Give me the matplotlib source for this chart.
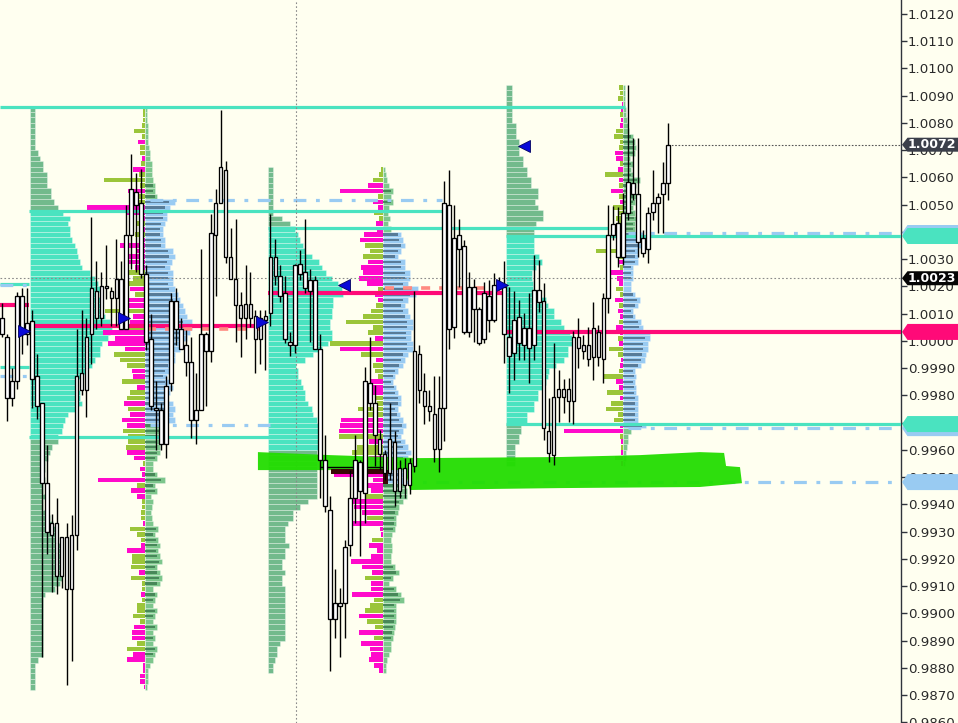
import numpy as np
import matplotlib.pyplot as plt
from matplotlib.patches import Polygon

# ---- candles (5 min bars) ----
opens = [1.00084, 1.00014, 0.99790, 0.99853, 1.00165, 1.00025, 1.00073, 0.99871, 0.99772, 0.99478,
         0.99288, 0.99332, 0.99137, 0.99280, 0.99089, 0.99288, 0.99820, 0.99820, 1.00025, 1.00183,
         1.00084, 1.00201, 1.00183, 1.00157, 1.00227, 1.00044, 1.00389, 1.00546, 1.00506, 1.00245,
         1.00007, 0.99754, 0.99746, 0.99622, 0.99845, 1.00146, 1.00044, 0.99985, 0.99922, 0.99710,
         0.99746, 1.00025, 0.99963, 1.00389, 1.00506, 1.00627, 1.00308, 1.00227, 1.00132, 1.00084,
         1.00135, 1.00091, 1.00007, 1.00077, 1.00102, 1.00308, 1.00238, 1.00176, 0.99996, 0.99985,
         1.00282, 1.00253, 1.00223, 1.00223, 0.99970, 0.99563, 0.99379, 0.98979, 0.99038, 0.99038,
         0.99251, 0.99423, 0.99555, 0.99442, 0.99845, 0.99772, 0.99640, 0.99585, 0.99515, 0.99629,
         0.99449, 0.99533, 0.99471, 0.99541, 0.99952, 0.99816, 0.99761, 0.99732, 0.99603, 0.99754,
         1.00499, 1.00051, 1.00389, 1.00348, 1.00033, 1.00198, 1.00117, 1.00007, 1.00165, 1.00077,
         1.00205, 1.00198, 1.00014, 0.99955, 1.00088, 0.99985, 1.00047, 0.99985, 1.00187, 1.00146,
         0.99669, 0.99581, 0.99794, 0.99823, 0.99823, 0.99779, 1.00014, 0.99963, 0.99985, 0.99941,
         1.00033, 0.99933, 1.00157, 1.00389, 1.00433, 1.00308, 1.00469, 1.00579, 1.00539, 1.00378,
         1.00337, 1.00473, 1.00506, 1.00539, 1.00579]
highs = [1.00139, 1.00025, 0.99900, 1.00179, 1.00194, 1.00194, 1.00113, 0.99952, 0.99772, 0.99618,
         0.99365, 0.99423, 0.99280, 0.99332, 0.99361, 1.00044, 1.00113, 1.00084, 1.00455, 1.00293,
         1.00253, 1.00352, 1.00198, 1.00374, 1.00293, 1.00499, 1.00686, 1.00616, 1.00631, 1.00278,
         1.00099, 0.99853, 0.99772, 0.99871, 1.00176, 1.00194, 1.00084, 1.00040, 1.00014, 0.99882,
         1.00337, 1.00033, 1.00466, 1.00557, 1.00847, 1.00660, 1.00414, 1.00447, 1.00179, 1.00278,
         1.00253, 1.00113, 1.00113, 1.00113, 1.00466, 1.00374, 1.00278, 1.00238, 1.00033, 1.00282,
         1.00333, 1.00447, 1.00264, 1.00238, 1.00025, 0.99655, 0.99431, 0.99163, 0.99093, 0.99269,
         0.99526, 0.99655, 0.99563, 0.99904, 1.00014, 0.99838, 0.99673, 0.99599, 0.99772, 0.99669,
         0.99563, 0.99570, 0.99570, 1.00183, 0.99985, 0.99882, 0.99820, 0.99871, 0.99871, 1.00587,
         1.00627, 1.00499, 1.00447, 1.00370, 1.00253, 1.00227, 1.00124, 1.00216, 1.00223, 1.00249,
         1.00234, 1.00293, 1.00198, 1.00183, 1.00150, 1.00102, 1.00176, 1.00315, 1.00297, 1.00212,
         0.99790, 0.99992, 0.99893, 0.99860, 0.99864, 1.00036, 1.00084, 1.00022, 1.00051, 1.00143,
         1.00058, 1.00176, 1.00499, 1.00495, 1.00491, 1.00543, 1.00939, 1.00745, 1.00745, 1.00407,
         1.00491, 1.00627, 1.00543, 1.00656, 1.00800]
lows = [1.00014, 0.99706, 0.99761, 0.99823, 0.99952, 0.99985, 0.99754, 0.99713, 0.98840, 0.99218,
        0.99078, 0.99071, 0.99093, 0.98737, 0.98825, 0.99232, 0.99801, 0.99721, 0.99915, 1.00044,
        1.00055, 1.00154, 1.00055, 1.00055, 1.00044, 1.00044, 1.00264, 1.00253, 1.00231, 0.99966,
        0.99746, 0.99599, 0.99599, 0.99570, 0.99816, 0.99985, 0.99970, 0.99871, 0.99644, 0.99622,
        0.99746, 0.99761, 0.99922, 1.00165, 1.00506, 1.00286, 1.00227, 0.99996, 0.99941, 1.00007,
        1.00051, 0.99882, 0.99915, 0.99893, 1.00055, 1.00205, 1.00143, 0.99992, 0.99944, 0.99955,
        1.00223, 1.00176, 0.99996, 0.99970, 0.99423, 0.99372, 0.98788, 0.98910, 0.98840, 0.98910,
        0.99210, 0.99332, 0.99210, 0.99332, 0.99746, 0.99541, 0.99526, 0.99489, 0.99489, 0.99394,
        0.99423, 0.99423, 0.99438, 0.99519, 0.99772, 0.99695, 0.99706, 0.99555, 0.99519, 0.99633,
        0.99970, 1.00011, 1.00198, 1.00025, 1.00014, 0.99996, 0.99985, 0.99992, 1.00033, 1.00069,
        1.00187, 0.99919, 0.99809, 0.99856, 0.99930, 0.99930, 0.99845, 0.99930, 1.00106, 0.99636,
        0.99555, 0.99544, 0.99702, 0.99735, 0.99702, 0.99695, 0.99900, 0.99933, 0.99908, 0.99856,
        0.99908, 0.99845, 1.00102, 1.00370, 1.00271, 1.00278, 1.00444, 1.00517, 1.00308, 1.00308,
        1.00286, 1.00444, 1.00396, 1.00396, 1.00517]
closes = [1.00025, 0.99790, 0.99853, 1.00165, 1.00025, 1.00066, 0.99860, 0.99761, 0.99478, 0.99299,
          0.99332, 0.99137, 0.99280, 0.99089, 0.99288, 0.99871, 0.99882, 1.00014, 1.00194, 1.00084,
          1.00201, 1.00194, 1.00157, 1.00227, 1.00044, 1.00389, 1.00557, 1.00499, 1.00245, 0.99996,
          0.99761, 0.99746, 0.99622, 0.99834, 1.00146, 1.00044, 0.99970, 0.99922, 0.99710, 0.99746,
          1.00025, 0.99963, 1.00396, 1.00506, 1.00638, 1.00308, 1.00227, 1.00132, 1.00084, 1.00135,
          1.00084, 1.00007, 1.00084, 1.00091, 1.00308, 1.00238, 1.00165, 1.00007, 0.99985, 1.00278,
          1.00245, 1.00194, 1.00183, 0.99970, 0.99563, 0.99394, 0.98979, 0.99038, 0.99027, 0.99244,
          0.99423, 0.99563, 0.99449, 0.99853, 0.99772, 0.99655, 0.99585, 0.99515, 0.99640, 0.99449,
          0.99533, 0.99471, 0.99552, 0.99963, 0.99820, 0.99761, 0.99743, 0.99603, 0.99754, 1.00506,
          1.00044, 1.00378, 1.00337, 1.00033, 1.00198, 1.00117, 0.99992, 1.00176, 1.00077, 1.00205,
          1.00198, 1.00025, 0.99944, 1.00077, 0.99992, 1.00047, 0.99974, 1.00187, 1.00143, 0.99680,
          0.99588, 0.99794, 0.99823, 0.99794, 0.99779, 1.00014, 0.99974, 0.99985, 0.99933, 1.00047,
          0.99941, 1.00157, 1.00389, 1.00429, 1.00308, 1.00469, 1.00583, 1.00539, 1.00363, 1.00322,
          1.00469, 1.00506, 1.00528, 1.00579, 1.00720]

# ---- volume profiles (price step 0.0002), standard sessions ----
STEP = 0.0002
A_lo = 0.9873
A_vol = [5, 5, 5, 5, 5, 8, 13, 13, 13, 13, 13, 13, 13, 13, 13, 13, 13, 15, 25, 30,
         32, 32, 30, 32, 30, 32, 30, 28, 28, 25, 23, 20, 18, 13, 13, 15, 13, 13, 15, 13,
         15, 15, 18, 20, 22, 28, 28, 32, 33, 35, 38, 45, 52, 50, 50, 48, 47, 50, 55, 62,
         65, 70, 70, 72, 78, 80, 82, 80, 75, 72, 70, 70, 68, 70, 68, 65, 60, 52, 50, 48,
         47, 45, 42, 40, 40, 38, 40, 33, 28, 24, 21, 21, 17, 17, 17, 13, 13, 10, 8, 5,
         5, 5, 5, 5, 5, 5, 5]
A_val, A_vah, A_poc = 0.99647, 1.00477, 1.00055

C_lo = 0.9879
C_vol = [5, 5, 7, 9, 9, 12, 17, 17, 17, 17, 17, 17, 17, 17, 17, 17, 14, 14, 17, 14,
         14, 17, 17, 21, 17, 17, 17, 20, 25, 25, 32, 40, 49, 49, 49, 49, 49, 49, 49, 49,
         49, 52, 52, 50, 50, 50, 49, 45, 44, 40, 37, 37, 35, 33, 30, 30, 28, 37, 45, 54,
         60, 64, 64, 62, 62, 64, 64, 65, 65, 75, 74, 70, 64, 58, 54, 51, 44, 37, 35, 32,
         30, 27, 22, 14, 5, 5, 5, 5, 5, 5, 5, 5, 5]
C_val, C_vah, C_poc = 0.99599, 1.00414, 1.00176

E_lo = 0.9955
E_vol = [9, 9, 9, 9, 13, 13, 15, 15, 21, 21, 28, 28, 32, 32, 36, 40, 42, 43, 50, 58,
         62, 62, 66, 66, 64, 58, 55, 48, 48, 42, 40, 35, 27, 27, 26, 26, 30, 36, 33, 28,
         28, 28, 28, 28, 30, 37, 37, 32, 29, 32, 32, 25, 25, 21, 21, 17, 17, 13, 13, 13,
         10, 10, 10, 6, 6, 6, 6, 6, 6, 6]
E_val, E_vah, E_poc = 0.99695, 1.00385, 1.00033

# ---- split (volume / delta) profiles ----
B_lo = 0.9873
B_vol = [2, 3, 3, 3, 5, 8, 10, 12, 8, 10, 8, 12, 8, 10, 12, 8, 10, 12, 8, 15,
         17, 15, 12, 17, 15, 13, 15, 13, 10, 13, 8, 7, 6, 7, 8, 6, 12, 10, 20, 12,
         8, 8, 12, 15, 15, 15, 15, 18, 18, 30, 28, 30, 28, 23, 25, 28, 25, 22, 25, 28,
         30, 30, 35, 38, 42, 45, 47, 47, 42, 40, 38, 35, 33, 30, 28, 28, 28, 25, 27, 30,
         28, 20, 20, 18, 18, 20, 22, 22, 25, 30, 12, 10, 10, 8, 7, 7, 7, 5, 5, 4,
         3, 3, 3, 3, 2, 2, 2]
B_delta = [-1, -5, -5, -2, -2, -18, -12, 18, 8, -13, -13, -11, 5, 12, 8, 8, 3, -4, 3, 3,
           14, -6, 14, 13, 13, -18, -4, 4, 8, 15, -2, 4, 4, 3, 3, -8, -14, 8, -47, -3,
           -5, 2, -11, -18, 19, 17, 17, 22, -18, -23, -15, 17, -21, 18, 15, -8, 23, -12, -13, 18,
           25, 31, -20, -37, -30, -42, 22, -15, -12, 40, -18, -25, 10, -15, 26, 12, 17, -10, -20, -19,
           -8, -25, -6, 10, -5, 8, -6, -18, -58, 6, 8, -17, 5, 41, 6, -12, 4, -3, 5, 5,
           -7, 3, 11, 3, 2, 2, 2]
B_val, B_vah, B_poc = 0.99691, 1.00517, 1.00044

D_lo = 0.9879
D_vol = [3, 3, 4, 6, 8, 8, 10, 11, 12, 13, 13, 13, 13, 21, 18, 13, 6, 10, 16, 12,
         8, 8, 9, 9, 8, 9, 12, 13, 13, 15, 16, 20, 24, 24, 22, 23, 23, 25, 23, 25,
         28, 25, 22, 18, 20, 23, 20, 17, 15, 18, 18, 15, 13, 10, 12, 15, 20, 22, 25, 30,
         30, 28, 28, 30, 30, 27, 25, 22, 25, 33, 35, 25, 27, 27, 22, 22, 15, 18, 22, 20,
         18, 8, 5, 7, 5, 6, 10, 8, 10, 6, 4, 3, 2]
D_delta = [-4, -9, -14, -12, -13, -22, 9, -24, 8, 16, -24, 18, 13, 9, -31, -12, -12, 18, -11, -21,
           -32, -12, -6, -14, 11, -2, -3, -34, 16, -21, -29, -34, 17, -12, -27, -10, -49, -8, 6, -14,
           31, 26, -14, 44, -44, -43, -42, 18, 25, 6, 7, -11, -11, -13, 5, 8, 10, -7, 22, -43,
           53, -8, 15, 10, 37, 20, 12, 7, -5, -8, 5, -16, -24, -20, -22, -15, 20, 13, 18, -23,
           -19, -6, -7, 4, 9, -5, -10, 5, -43, -15, 10, 4, 2]
D_val, D_vah, D_poc = 0.99482, 1.00400, 1.00194

F_lo = 0.9955
F_vol = [2, 3, 3, 4, 5, 5, 8, 23, 15, 15, 15, 15, 15, 13, 13, 12, 13, 12, 18, 22,
         23, 25, 25, 27, 27, 20, 18, 12, 10, 15, 17, 12, 8, 8, 10, 10, 10, 15, 15, 15,
         18, 20, 20, 12, 12, 13, 12, 10, 12, 13, 10, 13, 17, 10, 8, 10, 7, 12, 13, 12,
         10, 6, 5, 4, 3, 3, 2, 2, 2, 2]
F_delta = [-2, 8, -2, 2, -2, 3, -59, -3, 9, 5, 17, 12, -3, 16, -4, -7, 20, 4, -3, -2,
           5, 14, -4, 5, -3, -7, 4, -3, -5, 4, -8, 3, 7, -4, -6, -13, 3, -5, 4, 27,
           3, -4, -3, 5, 5, 7, 4, 10, -3, 4, -12, 4, -4, 18, -5, 3, -7, -8, 4, 3,
           9, 7, -3, -2, 3, -2, -1, 5, 3, 4]
F_val, F_vah = 0.99680, 1.00396

# earlier session levels carried in from the left
prev_vah, prev_poc, prev_val = 1.00208, 1.00132, 0.99904
prev_hi_dash, prev_lo_dash = 1.00204, 0.99871
top_level = 1.00858

last_price = 1.0072
cross_price = 1.0023

# drawn highlighter zone (bar index, price)
zone_x = [51.5, 66.0, 84.1, 112.3, 128.4, 140.4, 145.3, 145.7, 148.5, 148.9,
          140.4, 112.3, 82.1, 81.1, 66.0, 51.5]
zone_y = [0.99592, 0.99581, 0.99570, 0.99574, 0.99581, 0.99592, 0.99589, 0.99541, 0.99537, 0.99478,
          0.99464, 0.99460, 0.99453, 0.99526, 0.99526, 0.99526]

# ---- colours ----
BG = '#FFFFF0'
AQUA = '#4AE3C0'
DKGREEN = '#72BA8C'
LBLUE = '#99CBF2'
MGREEN = '#7DC68C'
SLATE = '#4D6D88'
DGREEN2 = '#3E7C50'
PINK = '#FF0ACB'
YGREEN = '#9BC53A'
MAGENTA = '#FF0A78'
SALMON = '#FF8A80'
HLGREEN = '#22DD00'

PX_PER_BAR = 4.97  # volume units are drawn one unit per pixel

fig = plt.figure(figsize=(9.58, 7.23), dpi=100, facecolor=BG)
ax = fig.add_axes([0, 0, 901 / 958, 1])
ax.set_facecolor(BG)
ax.set_xlim(-0.4, 180.9)
ax.set_ylim(0.98598, 1.01251)

sep = (1, 1, 1, 0.35)


def profile(start, lo, vols, val, vah):
    lv = lo + STEP * np.arange(len(vols))
    inside = (lv >= val - 1e-7) & (lv <= vah + 1e-7)
    cols = np.where(inside, AQUA, DKGREEN)
    ax.barh(lv, np.array(vols) / PX_PER_BAR, height=STEP, left=start, color=cols,
            edgecolor=sep, linewidth=0.6, zorder=2)


def split_profile(mid, lo, vols, deltas, val, vah):
    lv = lo + STEP * np.arange(len(vols))
    v = np.array(vols, dtype=float)
    inside = (lv >= val - 1e-7) & (lv <= vah + 1e-7)
    ax.barh(lv, v / PX_PER_BAR, height=STEP, left=mid, color=np.where(inside, LBLUE, MGREEN),
            edgecolor=sep, linewidth=0.5, zorder=2)
    big = v >= 10
    ax.barh(lv[big], v[big] * 0.8 / PX_PER_BAR, height=STEP * 0.42, left=mid,
            color=np.where(inside[big], SLATE, DGREEN2), edgecolor='none', alpha=0.85, zorder=2.2)
    d = np.array(deltas, dtype=float)
    ax.barh(lv, -np.abs(d) / PX_PER_BAR, height=STEP * 0.85, left=mid,
            color=np.where(d > 0, YGREEN, PINK), edgecolor='none', zorder=2.1)


profile(5.6, A_lo, A_vol, A_val, A_vah)
profile(53.5, C_lo, C_vol, C_val, C_vah)
profile(101.4, E_lo, E_vol, E_val, E_vah)
split_profile(28.8, B_lo, B_vol, B_delta, B_val, B_vah)
split_profile(76.7, D_lo, D_vol, D_delta, D_val, D_vah)
split_profile(125.0, F_lo, F_vol, F_delta, F_val, F_vah)

# ---- level lines ----
end = 180.9
aq = dict(color=AQUA, lw=2.3, zorder=3, capstyle='butt')
mg = dict(color=MAGENTA, lw=3.0, zorder=3, capstyle='butt')
bd = dict(color=LBLUE, lw=2.3, zorder=3, linestyle=(0, (4, 3, 1.2, 3)))
sd = dict(color=SALMON, lw=2.6, zorder=3, linestyle=(0, (2.5, 2.5)))

ax.hlines(top_level, -0.4, 125.4, **aq)
ax.hlines(prev_vah, -0.4, 5.4, **aq)
ax.hlines(prev_val, -0.4, 5.4, **aq)
ax.hlines(prev_poc, -0.4, 5.4, **mg)
ax.hlines([prev_hi_dash, prev_lo_dash], -0.4, 5.4, **bd)
ax.hlines(A_vah, 5.4, 88.5, **aq)
ax.hlines(A_val, 5.4, 62.4, **aq)
ax.hlines(A_poc, 5.4, 52.5, **mg)
ax.hlines(B_poc, 29.2, 52.5, **sd)
ax.hlines(B_vah, 29.8, 88.5, **bd)
ax.hlines(B_val, 29.8, 53.9, **bd)
ax.hlines(C_vah, 53.5, 121.9, **aq)
ax.hlines(C_poc, 53.5, 100.8, **mg)
ax.hlines(D_poc, 77.1, 100.8, **sd)
ax.hlines(D_val, 80.1, end, **bd)
ax.hlines([E_vah, E_val], 101.4, end, **aq)
ax.hlines(E_poc, 101.4, end, **mg)
ax.hlines([F_vah, F_val], 126.0, end, **bd)

# hand-drawn highlight zone
ax.add_patch(Polygon(np.column_stack([zone_x, zone_y]), closed=True, facecolor=HLGREEN,
                     edgecolor='none', alpha=0.95, zorder=4))
ax.hlines(0.99537, 64.0, 77.1, color='black', lw=1.0, zorder=4.5)
ax.fill_between([66.2, 76.7], 0.99511, 0.99530, color='#3A0606', zorder=4.5, lw=0)
ax.fill_between([76.7, 77.7], 0.99475, 0.99526, color='#3A0606', zorder=4.5, lw=0)

# crosshair / last price guides
ax.axvline(59.2, color='#8A8A8A', lw=0.8, linestyle=(0, (1.5, 2)), zorder=3.5)
ax.axhline(cross_price, color='#8A8A8A', lw=0.8, linestyle=(0, (1.5, 2)), zorder=3.5)
ax.hlines(last_price, 134, end, color='#555555', lw=0.8, linestyle=(0, (1.5, 1.5)), zorder=3.5)

# ---- candles ----
idx = np.arange(len(opens))
o = np.array(opens)
c = np.array(closes)
lo_b = np.minimum(o, c)
hi_b = np.maximum(o, c)
ax.vlines(idx, lows, highs, color='black', lw=1.0, zorder=6)
ax.bar(idx, hi_b - lo_b, bottom=lo_b, width=0.72, color='white', edgecolor='black',
       linewidth=0.95, zorder=7)

# session markers
mk = dict(markersize=8, color='#0A0AD8', markeredgecolor='#000060', markeredgewidth=0.6, zorder=8)
ax.plot([4.4, 24.5, 52.3, 100.6], [1.00036, 1.00084, 1.00069, 1.00205], '>', linestyle='none', **mk)
ax.plot([68.8, 105.0], [1.00205, 1.00715], '<', linestyle='none', **mk)

# ---- right price axis ----
for s in ['top', 'left', 'bottom']:
    ax.spines[s].set_visible(False)
ax.spines['right'].set_color('#30343C')
ax.spines['right'].set_linewidth(1.0)
ax.set_xticks([])
ax.yaxis.tick_right()
ticks = np.round(np.arange(0.9860, 1.01201, 0.001), 4)
ax.set_yticks(ticks)
ax.set_yticklabels([f'{t:.4f}' for t in ticks])
ax.tick_params(axis='y', direction='out', length=4, width=1, color='#30343C',
               labelsize=9.6, labelcolor='#2A2A2A', pad=1)
for lab in ax.get_yticklabels():
    lab.set_family('DejaVu Sans')

trans = ax.get_yaxis_transform()
px_y = 0.0000367


def tag(price, color, text=None, half=8):
    h = half * px_y
    xs = [1.0011, 1.0072, 1.07, 1.07, 1.0072]
    ys = [price, price + h, price + h, price - h, price - h]
    ax.add_patch(Polygon(np.column_stack([xs, ys]), closed=True, transform=trans,
                         facecolor=color, edgecolor='none', clip_on=False, zorder=10))
    if text:
        ax.text(1.0075, price, text, transform=trans, color='white', fontsize=9,
                fontweight='bold', va='center', ha='left', clip_on=False, zorder=11)


tag(F_vah, LBLUE)
tag(E_vah, AQUA)
tag(E_poc, MAGENTA)
tag(F_val, LBLUE)
tag(E_val, AQUA)
tag(D_val, LBLUE)
tag(last_price, '#3B3F4A', f'{last_price:.4f}', half=7)
tag(cross_price, '#050505', f'{cross_price:.4f}', half=7)

fig.savefig('out.png', dpi=100, facecolor=BG)
